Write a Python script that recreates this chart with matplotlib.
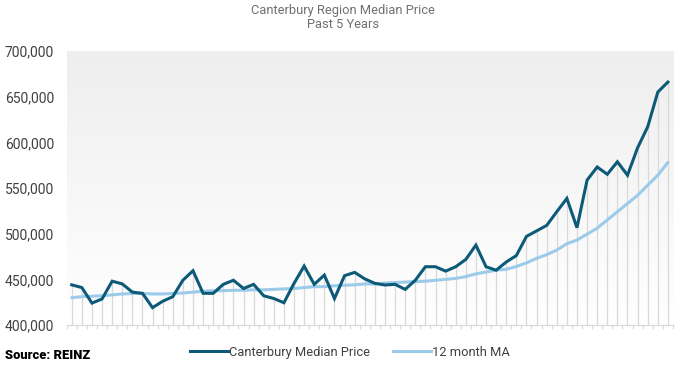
import matplotlib
matplotlib.use("Agg")
import matplotlib.pyplot as plt
import numpy as np
from matplotlib.ticker import FuncFormatter, FixedLocator
from matplotlib.lines import Line2D

title = "Canterbury Region Median Price\nPast 5 Years"
series_names = ["Canterbury Median Price", "12 month MA"]

median_price = [444, 441, 424, 428.5, 448, 445, 436, 434.7, 419, 426,
                431, 449, 459.4, 434.7, 434.7, 444.5, 449, 440, 444.5, 432,
                429, 424.4, 445.6, 464.5, 444.5, 454.7, 429, 454, 457.6, 450.5,
                445.6, 443.8, 444.5, 439, 449, 463.8, 463.8, 459, 463.8, 471.8,
                487.5, 463.8, 460, 469, 476, 497, 503, 509, 524, 538.6,
                506.5, 558.6, 573, 565, 578.7, 564, 594, 617, 655, 666]
median_price = [v * 1000 for v in median_price]

ma_12 = [430, 431, 431.5, 432, 433, 434, 434.5, 434.5, 434, 434,
         434.5, 435, 436, 437, 437.5, 437.5, 438, 438, 438.5, 438.5,
         439, 439.5, 440, 441, 442, 442, 443, 443.5, 444, 445,
         445, 446, 446.5, 447, 447.5, 448, 449, 450, 451, 453,
         456, 458, 460, 461, 464, 468, 473, 477, 482, 489,
         493, 499.5, 506, 515, 524, 533, 542, 553, 564, 578]
ma_12 = [v * 1000 for v in ma_12]

y_ticks = [400000, 450000, 500000, 550000, 600000, 650000, 700000]

dark = "#0d5a78"
light = "#9ccbea"

fig = plt.figure(figsize=(6.86, 3.70), dpi=100)
ax = fig.add_axes([0.0972, 0.1216, 0.8838, 0.7406])

n = len(median_price)
x = np.arange(n)
ax.set_xlim(-0.5, n - 0.5)
ax.set_ylim(y_ticks[0], y_ticks[-1])

grad = np.linspace(0, 1, 256).reshape(-1, 1)
cmap = matplotlib.colors.LinearSegmentedColormap.from_list("g", ["#ffffff", "#eeeeee"])
ax.imshow(grad, aspect="auto", cmap=cmap, extent=[-0.5, n - 0.5, y_ticks[-1], y_ticks[0]],
          origin="upper", zorder=0)

ax.vlines(x, y_ticks[0], median_price, colors="#d9d9d9", linewidth=0.9, zorder=1)

ax.plot(x, ma_12, color=light, linewidth=2.2, zorder=3, solid_capstyle="round")
ax.plot(x, median_price, color=dark, linewidth=2.2, zorder=4, solid_joinstyle="miter")

for s in ["top", "right", "left"]:
    ax.spines[s].set_visible(False)
ax.spines["bottom"].set_color("#d9d9d9")
ax.spines["bottom"].set_linewidth(0.9)

ax.xaxis.set_major_locator(FixedLocator(np.arange(-0.5, n, 1.0)))
ax.tick_params(axis="x", length=3, color="#d9d9d9", labelbottom=False)
ax.set_yticks(y_ticks)
ax.yaxis.set_major_formatter(FuncFormatter(lambda v, p: f"{int(v):,}"))
ax.tick_params(axis="y", length=0, pad=9, labelsize=10, labelcolor="#404040")
for lab in ax.get_yticklabels():
    lab.set_fontfamily("Roboto")

fig.text(0.5, 0.99, title, ha="center", va="top", fontsize=9.3, color="#707070",
         family="Roboto", linespacing=1.1)

handles = [Line2D([0], [0], color=dark, linewidth=2.2),
           Line2D([0], [0], color=light, linewidth=2.2)]
leg = fig.legend(handles, series_names, loc="center", bbox_to_anchor=(0.51, 0.048),
                 ncol=2, frameon=False, handlelength=2.9, handletextpad=0.1,
                 columnspacing=1.8, prop={"family": "Roboto", "size": 9.3})
for t in leg.get_texts():
    t.set_color("#404040")

fig.text(0.008, 0.04, "Source: REINZ", ha="left", va="center", fontsize=9.3,
         family="Roboto", weight="heavy", color="#000000")

fig.savefig("out.png", dpi=100)
